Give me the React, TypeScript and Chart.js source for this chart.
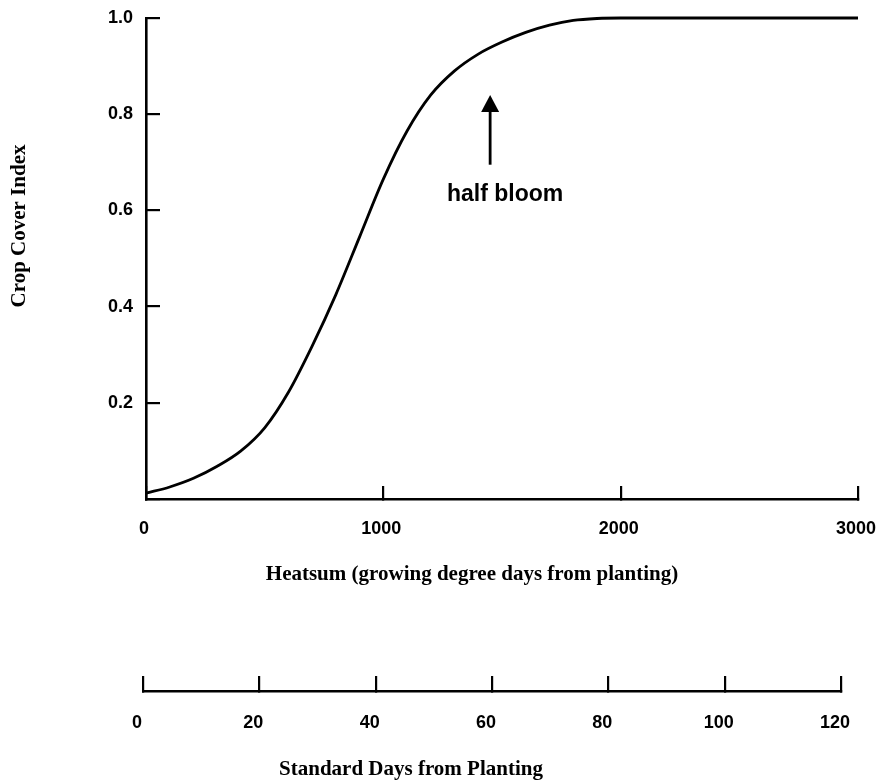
import React, { useEffect, useRef } from 'react';
import { Chart, registerables } from 'chart.js';

Chart.register(...registerables);

// ---- data ----
const HEATSUM = [0, 100, 200, 300, 400, 500, 600, 700, 800, 900, 1000, 1100, 1200, 1300, 1400, 1500, 1600, 1700, 1800, 1900, 2000, 2500, 3000];
const COVER = [0.012, 0.025, 0.043, 0.068, 0.1, 0.148, 0.222, 0.318, 0.425, 0.545, 0.665, 0.765, 0.84, 0.89, 0.925, 0.95, 0.97, 0.985, 0.995, 0.999, 1.0, 1.0, 1.0];

const HEAT_TICKS = [0, 1000, 2000, 3000];
const COVER_TICKS = [0, 0.2, 0.4, 0.6, 0.8, 1.0];
const DAY_TICKS = [0, 20, 40, 60, 80, 100, 120];

const Y_TITLE = 'Crop Cover Index';
const X_TITLE = 'Heatsum (growing degree days from planting)';
const DAYS_TITLE = 'Standard Days from Planting';
const NOTE_TEXT = 'half bloom';
const NOTE_ARROW = { x: 1450, from: 0.695, to: 0.84 };
const NOTE_LABEL = { x: 1513, y: 0.633 };

const TICK_FONT = { family: '"Liberation Sans", Arial, sans-serif', size: 18, weight: 'bold' as const };
const TITLE_FONT = 'bold 21px "Liberation Serif", "Times New Roman", serif';
const INK = '#000';

const mainOverlay = {
  id: 'mainOverlay',
  afterDraw(chart: any) {
    const { ctx, scales } = chart;
    const x = scales.x;
    const y = scales.y;
    ctx.save();
    ctx.fillStyle = INK;
    ctx.strokeStyle = INK;
    // arrow
    const ax = x.getPixelForValue(NOTE_ARROW.x);
    const yb = y.getPixelForValue(NOTE_ARROW.from);
    const yt = y.getPixelForValue(NOTE_ARROW.to);
    ctx.lineWidth = 2.8;
    ctx.beginPath();
    ctx.moveTo(ax, yb);
    ctx.lineTo(ax, yt + 14);
    ctx.stroke();
    ctx.beginPath();
    ctx.moveTo(ax, yt);
    ctx.lineTo(ax - 9, yt + 17);
    ctx.lineTo(ax + 9, yt + 17);
    ctx.closePath();
    ctx.fill();
    // note text
    ctx.font = 'bold 23px "Liberation Sans", Arial, sans-serif';
    ctx.textAlign = 'center';
    ctx.textBaseline = 'middle';
    ctx.fillText(NOTE_TEXT, x.getPixelForValue(NOTE_LABEL.x), y.getPixelForValue(NOTE_LABEL.y));
    // titles
    ctx.font = TITLE_FONT;
    ctx.fillText(X_TITLE, 472, 575);
    ctx.translate(20, 226);
    ctx.rotate(-Math.PI / 2);
    ctx.fillText(Y_TITLE, 0, 0);
    ctx.restore();
  },
};

const daysOverlay = {
  id: 'daysOverlay',
  afterDraw(chart: any) {
    const { ctx } = chart;
    ctx.save();
    ctx.fillStyle = INK;
    ctx.font = TITLE_FONT;
    ctx.textAlign = 'center';
    ctx.textBaseline = 'middle';
    ctx.fillText(DAYS_TITLE, 411, 170);
    ctx.restore();
  },
};

const plain = (v: any) => String(v);

export default function App() {
  const mainRef = useRef<HTMLCanvasElement>(null);
  const daysRef = useRef<HTMLCanvasElement>(null);

  useEffect(() => {
    const main = new Chart(mainRef.current as HTMLCanvasElement, {
      type: 'line',
      data: {
        datasets: [
          {
            data: HEATSUM.map((h, i) => ({ x: h, y: COVER[i] })),
            borderColor: INK,
            borderWidth: 2.8,
            pointRadius: 0,
            fill: false,
            cubicInterpolationMode: 'monotone',
            clip: 8,
          } as any,
        ],
      },
      options: {
        animation: false,
        responsive: false,
        devicePixelRatio: 1,
        layout: { padding: { left: 0, right: 21, top: 18, bottom: 0 } },
        plugins: { legend: { display: false }, tooltip: { enabled: false } },
        scales: {
          x: {
            type: 'linear',
            min: 0,
            max: 3000,
            afterBuildTicks: (s: any) => {
              s.ticks = HEAT_TICKS.map((value) => ({ value }));
            },
            afterFit: (s: any) => {
              s.height = 101;
              s.paddingLeft = 0;
              s.paddingRight = 0;
            },
            grid: { drawOnChartArea: false, drawTicks: true, tickLength: -13, color: INK, lineWidth: 2.2 },
            border: { display: true, color: INK, width: 2.6 },
            ticks: { color: INK, font: TICK_FONT, padding: 32, maxRotation: 0, autoSkip: false, labelOffset: -2, callback: plain },
          },
          y: {
            type: 'linear',
            min: 0,
            max: 1,
            afterBuildTicks: (s: any) => {
              s.ticks = COVER_TICKS.map((value) => ({ value }));
            },
            afterFit: (s: any) => {
              s.width = 146;
              s.paddingTop = 0;
              s.paddingBottom = 0;
            },
            grid: { drawOnChartArea: false, drawTicks: true, tickLength: -14, color: INK, lineWidth: 2.2 },
            border: { display: true, color: INK, width: 2.6 },
            ticks: {
              color: INK,
              font: TICK_FONT,
              padding: 27,
              autoSkip: false,
              callback: (v: any) => (Number(v) === 0 ? '' : Number(v).toFixed(1)),
            },
          },
        },
      } as any,
      plugins: [mainOverlay],
    });

    const days = new Chart(daysRef.current as HTMLCanvasElement, {
      type: 'line',
      data: { datasets: [] },
      options: {
        animation: false,
        responsive: false,
        devicePixelRatio: 1,
        layout: { padding: { left: 143, right: 38, top: 10, bottom: 0 } },
        plugins: { legend: { display: false }, tooltip: { enabled: false } },
        scales: {
          x: {
            type: 'linear',
            min: 0,
            max: 120,
            afterBuildTicks: (s: any) => {
              s.ticks = DAY_TICKS.map((value) => ({ value }));
            },
            afterFit: (s: any) => {
              s.height = 93;
              s.paddingLeft = 0;
              s.paddingRight = 0;
            },
            grid: { drawOnChartArea: false, drawTicks: true, tickLength: -15, color: INK, lineWidth: 2.2 },
            border: { display: true, color: INK, width: 2.6 },
            ticks: { color: INK, font: TICK_FONT, padding: 36, maxRotation: 0, autoSkip: false, labelOffset: -6, callback: plain },
          },
          y: { display: false, min: 0, max: 1 },
        },
      } as any,
      plugins: [daysOverlay],
    });

    return () => {
      main.destroy();
      days.destroy();
    };
  }, []);

  return (
    <div style={{ position: 'absolute', left: 0, top: 0, width: 879, height: 784, background: '#fff' }}>
      <canvas ref={mainRef} width={879} height={600} style={{ position: 'absolute', left: 0, top: 0, display: 'block' }} />
      <canvas ref={daysRef} width={879} height={184} style={{ position: 'absolute', left: 0, top: 600, display: 'block' }} />
    </div>
  );
}
